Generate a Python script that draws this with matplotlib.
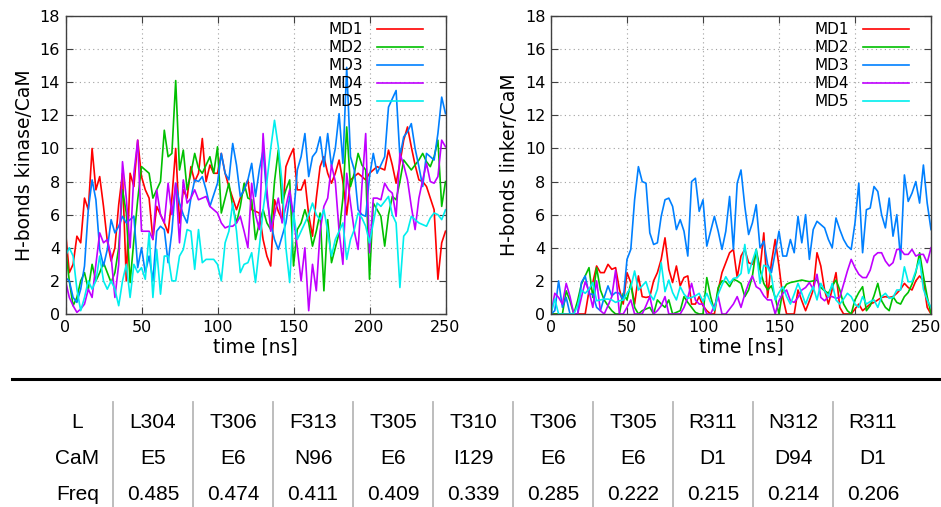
import numpy as np
import matplotlib
matplotlib.use("Agg")
import matplotlib.pyplot as plt
from matplotlib.lines import Line2D
import matplotlib.transforms as mtransforms

# ---------------- data ----------------
time = np.arange(0, 250.01, 2.5)  # ns

# kinase/CaM H-bonds
k_md1 = [5, 2.5, 3, 4.7, 4.3, 7, 6.3, 10, 7.5, 8.3,
         6.5, 4.4, 3.2, 4, 6.6, 8.5, 2, 8.5, 7.7, 10.5,
         8.3, 7.5, 7, 4.5, 6.5, 6, 5.5, 4.9, 7, 10,
         5.5, 7.5, 7, 8.9, 8, 8.5, 10.6, 8, 9, 8.5,
         8.5, 9.7, 8.5, 7.7, 7, 6.3, 7, 7.5, 8.1, 6.3,
         6.2, 6.1, 4.5, 3.5, 2.9, 6.9, 6.2, 5.7, 8.9, 9.5,
         10, 7.5, 7.5, 8.1, 6, 4.7, 7, 8.9, 9.5, 8.5,
         7.9, 8.5, 9.3, 8, 6, 8.1, 8.3, 8.5, 8.3, 8.1,
         8.5, 8.7, 8.9, 8.8, 8.7, 9.9, 9, 7.9, 9.1, 10.5,
         11.3, 10.1, 9, 8.1, 8, 7.7, 7, 6.3, 2.1, 4.3,
         5]
k_md2 = [4, 2, 0.5, 1, 2, 2.5, 1.5, 3, 2, 2.5,
         3.1, 2.5, 1.9, 2.5, 4, 7.5, 6.1, 1.9, 4.5, 6.9,
         8.9, 8.7, 8.5, 7, 7.5, 8, 11.1, 9.5, 9.7, 14.1,
         8.7, 9.9, 7.5, 8.5, 9.7, 8.8, 8.5, 9, 9.5, 8.5,
         10.1, 6.1, 7, 7.9, 6.5, 5.5, 6.5, 7.9, 7, 6.9,
         4.5, 5.5, 6.3, 5.5, 5.1, 8, 9.9, 6.7, 7.5, 8.1,
         2.9, 5.1, 5.5, 6.3, 5.5, 4.1, 5, 6.1, 1.4, 5.7,
         3.1, 4, 4.9, 7, 11.3, 7.7, 8.5, 9.7, 9, 8.7,
         2.1, 6.7, 6.3, 5.9, 4.1, 6, 7.1, 6.9, 8, 9.3,
         9, 8.7, 9, 9.3, 9.7, 9.2, 8.9, 9.5, 10.5, 6.5,
         8]
k_md3 = [2.2, 2, 1, 0.7, 1.5, 2.9, 6.3, 8.1, 6.9, 3.9,
         2.9, 3.9, 5.7, 4.9, 5.3, 5.9, 5.5, 5.7, 5.9, 2.8,
         4, 2.5, 3.5, 2, 5, 5.3, 5.1, 3.1, 5, 7.9,
         6.7, 6, 5.5, 7, 8.1, 8, 8.3, 7.5, 6.5, 7.2,
         7.9, 9.7, 8.5, 8.1, 10.3, 9, 7.1, 7.5, 8.1, 9.1,
         7.1, 8.7, 9.9, 7, 5.5, 4.5, 3.9, 4.7, 5.5, 7.1,
         5.9, 8.7, 9.5, 10.9, 8.3, 9.5, 9.8, 10.7, 8.9, 10.9,
         8.9, 10, 12.1, 9.1, 14.9, 9.5, 8.7, 6.3, 6, 5.9,
         8.3, 9.7, 8.5, 9, 9.5, 12.5, 13, 13.5, 9.5, 10.7,
         11, 11.5, 10, 8.9, 7.7, 9.7, 9.5, 9.3, 10.9, 13.1,
         12.1]
k_md4 = [2, 1, 0.5, 0.1, 0.3, 0.6, 1.5, 1, 3, 4.9,
         4.3, 4.5, 3.5, 1, 3, 9.2, 7, 4, 8.5, 10.5,
         5, 5, 5, 4.5, 7.5, 6, 5.5, 7.9, 6, 7.9,
         4.3, 8.1, 6.7, 7, 7.5, 6.9, 7, 7.1, 6.5, 6.3,
         6.1, 5.5, 5.2, 5.3, 5.3, 5.5, 5.9, 5, 4, 7.9,
         6, 5.1, 10.9, 7.5, 5, 6, 7, 5.5, 6.5, 7.5,
         5.9, 4, 2, 4, 0.2, 3, 1.4, 5, 6.5, 7,
         9, 8, 5, 3, 8.5, 6.7, 5, 3.9, 7.7, 10.9,
         3.7, 7, 7, 6.9, 7.9, 7.5, 7.3, 5.9, 9.7, 9,
         8.1, 6.5, 5.1, 7, 8.1, 9.1, 8, 7.9, 8.3, 10.5,
         10.1]
k_md5 = [3.5, 4, 3.5, 1.5, 0.2, 1, 2, 1.5, 2, 3.5,
         2, 1.5, 2, 1.5, 0.5, 2, 3, 1, 3, 2.5,
         2.8, 2.1, 4.9, 1, 3.9, 1.2, 3.5, 3.5, 2, 2,
         3.5, 3.9, 5.1, 5, 2.7, 5.1, 3.1, 3.3, 3.3, 3.3,
         3, 2, 4.3, 5, 6.7, 5, 2.5, 3, 3.1, 3.7,
         1.9, 4, 6.3, 8, 10, 11.7, 10.1, 7.9, 4, 1.9,
         6.1, 4.5, 5, 5.5, 6, 6.7, 6, 5.7, 6.3, 5,
         3.5, 4.5, 5, 5.5, 3.3, 4.5, 5.1, 6.1, 5.8, 5.3,
         4.3, 5.5, 6.7, 6.5, 6.8, 7.1, 6, 5.5, 1.6, 4.7,
         5, 5.9, 5.7, 5.5, 5.4, 5.3, 5.8, 6.1, 6, 5.7,
         6.3]

# linker/CaM H-bonds
l_md1 = [0, 0, 0, 0, 0, 0, 0, 0, 0, 0,
         1.4, 1.9, 2.9, 2.5, 2.5, 3, 2.7, 2.8, 1.5, 0.6,
         2.5, 1.9, 0.6, 2.3, 1.05, 1, 1.05, 2, 2.5, 3.3,
         4.6, 2.7, 1.9, 2.9, 1.7, 2.2, 2.3, 0.6, 0.6, 1.05,
         0.5, 0.2, 0, 0, 1.45, 2.5, 3.1, 3.7, 3.9, 2.2,
         3.5, 3.9, 3.1, 3, 3.7, 2.7, 4.9, 1, 3.1, 4.5,
         2.9, 1, 0, 0, 0, 1.45, 0.8, 0.2, 0.8, 1.45,
         3.7, 2.9, 1.45, 0.6, 1.5, 2.5, 0.4, 0, 0, 0,
         0.3, 0.6, 0.2, 0.4, 0.6, 0.7, 0.85, 1, 1.05, 1,
         1.05, 1.25, 1.5, 1.85, 1.6, 1.45, 2, 2.3, 2, 0.4,
         0]
l_md2 = [0, 0, 0, 0, 1.4, 0.8, 0, 0.8, 1.8, 2.3,
         2.8, 1, 2.8, 1.45, 0.85, 0.5, 0.2, 0, 0, 1.25,
         0.85, 1.85, 0.4, 0, 0.2, 0.3, 0.4, 0, 0.85, 0.6,
         0.4, 0.85, 0, 0.1, 0.2, 1.05, 0.7, 0.4, 0.1, 0,
         0, 2.2, 1.05, 0.2, 1.6, 2, 1.95, 1.65, 2.1, 2,
         1.85, 1.05, 1.45, 2.3, 3.9, 2.7, 1.85, 1.45, 1.7, 1,
         0, 1.45, 1.8, 1.9, 1.95, 2, 2.05, 2, 1.95, 2,
         2.05, 1.6, 1.4, 1.25, 1.7, 2.05, 1.45, 0.6, 0.2, 0,
         0.85, 1.3, 1.65, 0.2, 0.5, 1.1, 1.85, 0.8, 0.4, 0.2,
         1.05, 0.7, 0.6, 1.05, 1.3, 1.8, 2.5, 3.7, 2.3, 1.05,
         0]
l_md3 = [0, 0.2, 2, 0.4, 1, 0, 0, 0, 1.9, 2.3,
         1.2, 1.2, 0.4, 0.2, 1, 1.7, 1.1, 1.3, 1.25, 0.85,
         3.3, 3.9, 6.9, 8.9, 8, 7.9, 4.9, 4.2, 4.3, 5.9,
         6.9, 7, 6.5, 5.1, 5.7, 5, 3.5, 8, 8.2, 6.2,
         6.9, 4.1, 5, 5.9, 5, 3.9, 5, 7.1, 3.9, 7.9,
         8.7, 6.5, 4.8, 5.5, 6.6, 4, 4.4, 3, 2.5, 3.7,
         5, 3.5, 3.5, 4.5, 3.7, 5.9, 4.3, 6, 3.3, 5.1,
         5.6, 5.4, 5.2, 4.5, 4, 5.8, 5.1, 4.5, 4.1, 3.9,
         5.5, 7.9, 3.7, 6.3, 6.4, 7.7, 7.4, 6, 5.2, 7,
         4.7, 6, 3.3, 8.4, 6.8, 7.3, 8, 6.7, 9, 6.7,
         5.1]
l_md4 = [0, 1.25, 1, 0.6, 1.85, 1.05, 0, 0, 1, 1.95,
         1.4, 0.4, 2, 0.2, 0, 0.5, 1.05, 2.65, 0, 0,
         0.4, 0.85, 0, 0, 0, 0.5, 1.05, 0, 0.2, 0.5,
         1.05, 0, 0, 0, 0, 0.4, 1, 1.85, 0.85, 0.6,
         0.6, 0, 0, 0.5, 1.05, 0, 0, 0.3, 0.6, 1.05,
         0.4, 1.2, 1.85, 2.3, 1.65, 1.5, 1.1, 0.85, 0.85, 0,
         0.8, 1.25, 1.45, 0.8, 0.7, 1, 1.45, 1.6, 1.9, 1.5,
         2.4, 1, 0.8, 1.05, 1.05, 0.95, 1, 1.8, 2.6, 3.3,
         2.8, 2.4, 2.2, 2.2, 2.65, 3.5, 3.7, 3.7, 3.2, 2.9,
         3.1, 3.9, 3.9, 3.6, 3.6, 3.9, 3.5, 3.6, 3.6, 3.1,
         4]
l_md5 = [0, 0.9, 0, 0, 0, 0, 0, 0.5, 1.45, 1.25,
         1.5, 1.9, 0.8, 0.85, 0.9, 0.9, 0.85, 0.7, 0.8, 0.85,
         1.25, 1.6, 2.6, 1.45, 1.7, 1.95, 1.2, 0.85, 1.5, 3.1,
         1.35, 2.05, 1.3, 0.85, 1.65, 1.2, 0.95, 1, 1.1, 1.25,
         0.75, 1.25, 0.7, 0.25, 1.2, 1.75, 2.25, 1.85, 2.15, 2.2,
         2.45, 4.2, 2.45, 3.2, 3.9, 1.85, 2.95, 2.85, 2.3, 0.85,
         1.3, 1.65, 1.05, 0.6, 1.2, 1.85, 1.25, 0.6, 1.2, 1.65,
         0.85, 1.85, 1.4, 1.05, 1.85, 0.85, 0.6, 0.9, 1.25, 1.05,
         0.6, 0.4, 1.05, 0.6, 0.75, 0.85, 0.4, 1.05, 1.25, 0.95,
         1, 1.45, 1.45, 2.85, 1.95, 1.95, 2.6, 3.3, 1.5, 0.85,
         0.4]

series_labels = ["MD1", "MD2", "MD3", "MD4", "MD5"]
series_colors = ["#ff0000", "#00c000", "#0080ff", "#c000ff", "#00eeee"]

# table
row_labels = ["L", "CaM", "Freq"]
L_res = ["L304", "T306", "F313", "T305", "T310", "T306", "T305", "R311", "N312", "R311"]
CaM_res = ["E5", "E6", "N96", "E6", "I129", "E6", "E6", "D1", "D94", "D1"]
freq = [0.485, 0.474, 0.411, 0.409, 0.339, 0.285, 0.222, 0.215, 0.214, 0.206]

# ---------------- figure ----------------
W, H = 941, 507
fig = plt.figure(figsize=(W / 100, H / 100), dpi=100)
plt.rcParams["font.family"] = ["DejaVu Sans"]


def fx(x):
    return x / W


def fy(y):
    return 1 - y / H


def make_axes(left_px, ylabel, data):
    ax = fig.add_axes([fx(left_px), fy(314), 380 / W, 298 / H])
    for d, lab, col in zip(data, series_labels, series_colors):
        ax.plot(time, d, color=col, lw=1.2, label=lab)
    ax.set_xlim(0, 250)
    ax.set_ylim(0, 18)
    ax.set_xticks(np.arange(0, 251, 50))
    ax.set_yticks(np.arange(0, 19, 2))
    ax.grid(True, color="#a0a0a0", linestyle=(0, (1, 3)), lw=0.8)
    ax.tick_params(direction="in", top=True, right=True, length=5,
                   width=0.8, color="#404040", labelsize=11.5, pad=4)
    for s in ax.spines.values():
        s.set_color("#404040")
        s.set_linewidth(1.0)
    ax.set_xlabel("time [ns]", fontsize=13.5, labelpad=2)
    ax.set_ylabel(ylabel, fontsize=13.5, labelpad=4)
    leg = ax.legend(loc="upper right", bbox_to_anchor=(0.965, 1.01), frameon=False,
                    markerfirst=False, handlelength=3.0, handletextpad=0.9,
                    labelspacing=0.2, fontsize=11, borderaxespad=0.2)
    for t in leg.get_texts():
        t.set_ha("right")
    return ax


ax1 = make_axes(65.5, "H-bonds kinase/CaM", [k_md1, k_md2, k_md3, k_md4, k_md5])
ax2 = make_axes(551, "H-bonds linker/CaM", [l_md1, l_md2, l_md3, l_md4, l_md5])

# keep the last x tick label of the right panel inside the canvas
fig.canvas.draw()
last = ax2.get_xticklabels()[-1]
last.set_transform(last.get_transform() +
                   mtransforms.ScaledTranslation(-5 / 100, 0, fig.dpi_scale_trans))

# separator line
fig.add_artist(Line2D([fx(12), fx(940)], [fy(379), fy(379)], color="black", lw=2.2))

# table
tfont = dict(family="Liberation Sans", fontsize=15, ha="center", va="center")
row_y = [422, 459, 494]
for lab, y in zip(row_labels, row_y):
    fig.text(fx(77.5), fy(y), lab, **tfont)
for i in range(len(L_res)):
    cx = 153 + 80 * i
    fig.text(fx(cx), fy(row_y[0]), L_res[i], **tfont)
    fig.text(fx(cx), fy(row_y[1]), CaM_res[i], **tfont)
    fig.text(fx(cx), fy(row_y[2]), "{:.3f}".format(freq[i]), **tfont)
    sx = 113.3 + 80 * i
    fig.add_artist(Line2D([fx(sx), fx(sx)], [fy(402), fy(507)], color="#b8b8b8", lw=1.3))

fig.savefig("out.png", dpi=100)
